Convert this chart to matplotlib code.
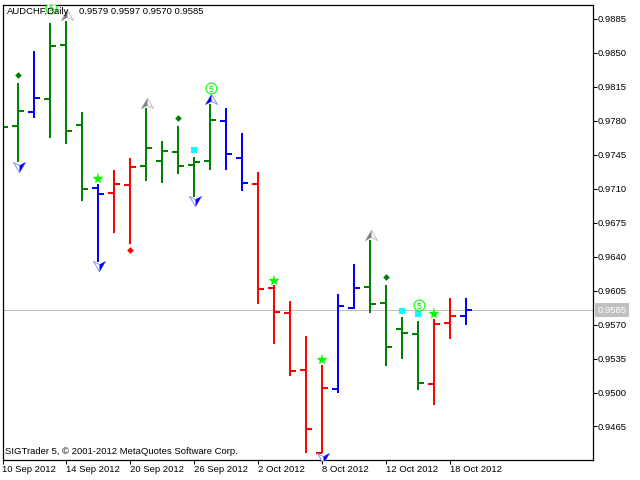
"""
plot.py
AUDCHF daily OHLC bars with signal markers, drawn like a MetaTrader 5 chart.

Output:
  - out.png
"""

import numpy as np
import matplotlib
matplotlib.use("Agg")
import matplotlib.pyplot as plt
from matplotlib.path import Path

plt.rcParams["font.family"] = ["Liberation Sans", "DejaVu Sans"]

# -- Bars --
opens = [np.nan, .97744, .97885, .98022, .98578, .97755, .97106, .97055, .97137, .97333,
         .97384, .97477, .97343, .97384, .97796, .97415, .97147, .96077, .95819, .95233,
         .94378, .95037, .95871, .96087, .95922, .95655, .95603, .95089, .95716, .9579]
highs = [np.nan, .98184, .98513, .98802, .98832, .97885, .97144, .97288, .97412, .97930,
         .97587, .97741, .97422, .97968, .97927, .97669, .97268, .96105, .95940, .95580,
         .95281, .96012, .96321, .96568, .96105, .95775, .95734, .95755, .95971, .9597]
lows = [np.nan, .97371, .97827, .97621, .97559, .96969, .96344, .96643, .96527, .97175,
        .97155, .97247, .97010, .97288, .97288, .97072, .95912, .95497, .95168, .94378,
        .94372, .94996, .95861, .95819, .95274, .95346, .95027, .94872, .95552, .9570]
closes = [.97731, .97899, .98030, .98568, .97690, .97093, .97044, .97147, .97322, .97518,
          .97487, .97333, .97374, .97806, .97456, .97158, .96066, .95830, .95222, .94625,
          .95047, .95891, .96077, .95912, .95469, .95614, .95099, .95706, .95789, .9585]
trends = ["flat", "flat", "up", "flat", "flat", "flat", "up", "down", "down", "flat",
          "flat", "flat", "flat", "flat", "up", "up", "down", "down", "down", "down",
          "down", "up", "up", "flat", "flat", "flat", "flat", "down", "down", "up"]

# -- Signals: bar index and price --
star_idx = [6, 17, 20, 27]
star_px = [.97196, .96146, .95332, .95806]
green_diamond_idx = [1, 11, 24]
green_diamond_px = [.98266, .97824, .96187]
red_diamond_idx = [8]
red_diamond_px = [.96465]
square_idx = [12, 25, 26]
square_px = [.97494, .95837, .95806]
circle_idx = [3, 13, 26]
circle_px = [.98966, .98132, .95899]
gray_up_idx = [4, 9, 23]
gray_up_px = [.98884, .97978, .96619]
blue_up_idx = [13]
blue_up_px = [.98019]
blue_down_idx = [1, 6, 12, 20]
blue_down_px = [.97319, .96300, .96969, .94324]

# -- Axis labels --
price_ticks = [.9885, .9850, .9815, .9780, .9745, .9710, .9675, .9640, .9605, .9570, .9535, .9500, .9465]
date_idx = [0, 4, 8, 12, 16, 20, 24, 28]
date_labels = ["10 Sep 2012", "14 Sep 2012", "20 Sep 2012", "26 Sep 2012",
               "2 Oct 2012", "8 Oct 2012", "12 Oct 2012", "18 Oct 2012"]
last_price = 0.9585

FONT = 6.8
colors = {"up": "#0000ff", "down": "#ff0000", "flat": "#008000"}

fig = plt.figure(figsize=(6.4, 4.8), dpi=100)
ax = fig.add_axes([2.5 / 640, 1 - 459.5 / 480, (592.5 - 2.5) / 640, (459.5 - 4.5) / 480])
ax.set_xlim(0.03, 36.9)
ax.set_ylim(.94310, .98997)

lw = 1.43

ax.axhline(last_price, color="#c0c0c0", linewidth=0.72, zorder=1, antialiased=False)

# one Line2D per stroke: these snap to whole pixels, unlike vlines/hlines
for i, trend in enumerate(trends):
    c = colors[trend]
    style = dict(color=c, linewidth=lw, solid_capstyle="butt", zorder=2)
    ax.plot([i, i], [lows[i], highs[i]], **style)
    ax.plot([i - 0.375, i], [opens[i], opens[i]], **style)
    ax.plot([i, i + 0.375], [closes[i], closes[i]], **style)

# -- Arrow markers: outline plus one solid half --
up_arrow = Path([(-1, -0.85), (0, 0.85), (1, -0.85), (0, -0.3), (-1, -0.85)], closed=True)
up_half = Path([(-1, -0.85), (0, 0.85), (0, -0.3), (-1, -0.85)], closed=True)
down_arrow = Path([(-1, 0.85), (0, -0.85), (1, 0.85), (0, 0.3), (-1, 0.85)], closed=True)
down_half = Path([(1, 0.85), (0, -0.85), (0, 0.3), (1, 0.85)], closed=True)


def arrows(idx, px, outline, half_path, whole_path, fill):
    idx = np.array(idx) + 1 / 16
    ax.plot(idx, px, ls="none", marker=whole_path, ms=8.6, mfc="white", mec=outline, mew=0.7, zorder=3)
    ax.plot(idx, px, ls="none", marker=half_path, ms=8.6, mfc=fill, mew=0, zorder=3)


arrows(gray_up_idx, gray_up_px, "#c0c0c0", up_half, up_arrow, "#808080")
arrows(blue_up_idx, blue_up_px, "#9090ff", up_half, up_arrow, "#0000ff")
arrows(blue_down_idx, blue_down_px, "#9090ff", down_half, down_arrow, "#0000ff")

ax.plot(star_idx, star_px, ls="none", marker="*", ms=8, mfc="#00ff00", mec="#00ff00", mew=0.2, zorder=3)
ax.plot(green_diamond_idx, green_diamond_px, ls="none", marker="D", ms=3.4, mfc="#008000", mew=0, zorder=3)
ax.plot(red_diamond_idx, red_diamond_px, ls="none", marker="D", ms=3.4, mfc="#ff0000", mew=0, zorder=3)
ax.plot(square_idx, square_px, ls="none", marker="s", ms=4, mfc="#00ffff", mew=0, zorder=3)

circle_x = np.array(circle_idx) + 1 / 16
ax.plot(circle_x, circle_px, ls="none", marker="o", ms=7.8, mfc="white", mec="#00ff00", mew=0.8, zorder=3)
for cx, cy in zip(circle_x, circle_px):
    ax.text(cx, cy, "5", color="#00d000", fontsize=6.5, ha="center", va="center_baseline", zorder=4, clip_on=True)

# -- Axes --
ax.yaxis.tick_right()
ax.set_xlim(0.03, 36.9)
ax.set_ylim(.94310, .98997)
ax.set_yticks(price_ticks)
ax.set_yticklabels([f"{p:.4f}" for p in price_ticks], fontsize=FONT)
ax.set_xticks(date_idx)
ax.set_xticklabels(date_labels, fontsize=FONT, ha="left")
ax.tick_params(axis="both", length=2.9, width=0.72, color="black")
ax.tick_params(axis="y", pad=1)
ax.tick_params(axis="x", pad=1.2)
for spine in ax.spines.values():
    spine.set_linewidth(0.9)
    spine.set_color("black")

ax.text(1.0088, last_price, f"{last_price:.4f}", transform=ax.get_yaxis_transform(),
        fontsize=FONT, color="white", va="center", ha="left", zorder=6, clip_on=False,
        bbox=dict(boxstyle="square,pad=0.25", fc="#c0c0c0", ec="#c0c0c0", lw=0))

# -- Header and footer --
fig.text(7 / 640, 1 - 12 / 480, "AUDCHF,Daily", fontsize=FONT, va="center", ha="left", zorder=7)
fig.text(79 / 640, 1 - 12 / 480, "0.9579 0.9597 0.9570 0.9585", fontsize=FONT, va="center", ha="left", zorder=7)
fig.text(5 / 640, 1 - 452 / 480, "SIGTrader 5, \u00a9 2001-2012 MetaQuotes Software Corp.", fontsize=FONT,
         va="center", ha="left", zorder=7)

fig.savefig("out.png", dpi=100)
